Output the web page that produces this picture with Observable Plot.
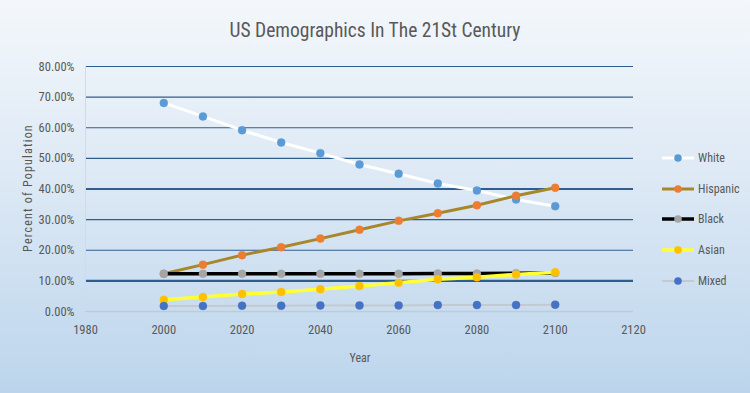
<!DOCTYPE html>
<html>
<head>
<meta charset="utf-8">
<script src="https://cdn.jsdelivr.net/npm/d3@7"></script>
<script src="https://cdn.jsdelivr.net/npm/@observablehq/plot@0.6"></script>
<style>
  html, body { margin: 0; padding: 0; }
  #wrap {
    position: relative; width: 750px; height: 393px; overflow: hidden;
    background: linear-gradient(to bottom, #f3f7fb 0%, #dde9f5 45%, #bcd5ec 100%);
    font-family: "Liberation Sans Narrow", "Roboto Condensed", "Liberation Sans", sans-serif;
  }
  #title {
    position: absolute; left: 0; top: 17px; width: 750px; text-align: center;
    font-size: 19.5px; color: #595959; height: 34px; line-height: 28px;
  }
  #chart { position: absolute; left: 0; top: 50px; }
  #legend { position: absolute; left: 660px; top: 143px; font-size: 12px; color: #595959; }
  .lg { display: flex; align-items: center; height: 30.6px; }
  .lg svg { margin-right: 2px; }
  #ytitle {
    position: absolute; left: 28px; top: 188px; transform: translate(-50%, -50%) rotate(-90deg);
    font-size: 12px; color: #595959; letter-spacing: 1.2px; white-space: nowrap;
  }
  #xtitle { position: absolute; left: 360px; top: 351px; transform: translateX(-50%); font-size: 12px; color: #595959; }
</style>
</head>
<body>
<div id="wrap">
  <div id="title">US Demographics In The 21St Century</div>
  <div id="chart"></div>
  <div id="ytitle">Percent of Population</div>
  <div id="xtitle">Year</div>
  <div id="legend"></div>
</div>
<script>
const years = [2000, 2010, 2020, 2030, 2040, 2050, 2060, 2070, 2080, 2090, 2100];
const white    = [68.1, 63.7, 59.2, 55.2, 51.7, 48.0, 45.0, 41.8, 39.5, 36.6, 34.4];
const hispanic = [12.3, 15.3, 18.4, 21.0, 23.8, 26.7, 29.6, 32.1, 34.7, 37.8, 40.4];
const black    = [12.3, 12.3, 12.3, 12.3, 12.3, 12.3, 12.3, 12.4, 12.4, 12.5, 12.6];
const asian    = [3.8, 4.7, 5.7, 6.4, 7.3, 8.3, 9.4, 10.5, 11.2, 12.1, 12.8];
const mixed    = [1.8, 1.8, 1.9, 1.9, 2.0, 2.0, 2.0, 2.1, 2.1, 2.1, 2.2];
const seriesNames = ["White", "Hispanic", "Black", "Asian", "Mixed"];
const seriesValues = [white, hispanic, black, asian, mixed];
const lineColors = ["#ffffff", "#a8872c", "#000000", "#ffff33", "#c4c9cf"];
const lineWidths = [3, 3, 3.5, 3.5, 2];
const dotColors = ["#5b9bd5", "#ed7d31", "#a5a5a5", "#ffc000", "#4472c4"];
const yTicks = [0, 10, 20, 30, 40, 50, 60, 70, 80];
const xTicks = [1980, 2000, 2020, 2040, 2060, 2080, 2100, 2120];

const rows = [];
seriesNames.forEach((s, i) => years.forEach((y, j) => rows.push({series: s, idx: i, year: y, value: seriesValues[i][j]})));

const marks = [
  Plot.ruleY(yTicks.filter(t => t > 0), {y: d => d, stroke: "#2f5e8e", strokeWidth: d => (d === 40 || d === 10) ? 2.2 : 1.1}),
  Plot.ruleY([0], {stroke: "#c3cad2", strokeWidth: 1.5}),
  Plot.ruleX([1980], {stroke: "#d2dbe5", strokeWidth: 1}),
  Plot.axisY({ticks: yTicks, tickSize: 0, tickPadding: 11, tickFormat: d => d.toFixed(2) + "%", fontSize: 12.5, fill: "#595959", label: null}),
  Plot.axisX({ticks: xTicks, tickSize: 0, tickPadding: 14, tickFormat: d => String(d), fontSize: 12.5, fill: "#595959", label: null})
];
seriesNames.forEach((s, i) => {
  const data = rows.filter(r => r.series === s);
  marks.push(Plot.line(data, {x: "year", y: "value", stroke: lineColors[i], strokeWidth: lineWidths[i]}));
  marks.push(Plot.dot(data, {x: "year", y: "value", fill: dotColors[i], r: 4, stroke: dotColors[i], strokeOpacity: 0.4, strokeWidth: 1}));
});

const chart = Plot.plot({
  width: 750, height: 343,
  marginTop: 16, marginBottom: 82, marginLeft: 85, marginRight: 117,
  style: {background: "transparent", fontFamily: "\"Liberation Sans Narrow\", \"Roboto Condensed\", \"Liberation Sans\", sans-serif"},
  x: {domain: [1980, 2120]},
  y: {domain: [0, 80]},
  marks
});
document.getElementById("chart").appendChild(chart);

const lg = document.getElementById("legend");
seriesNames.forEach((s, i) => {
  const row = document.createElement("div");
  row.className = "lg";
  const NS = "http://www.w3.org/2000/svg";
  const sv = document.createElementNS(NS, "svg");
  sv.setAttribute("width", 36); sv.setAttribute("height", 12);
  const ln = document.createElementNS(NS, "line");
  ln.setAttribute("x1", 2); ln.setAttribute("x2", 34); ln.setAttribute("y1", 6); ln.setAttribute("y2", 6);
  ln.setAttribute("stroke", lineColors[i]); ln.setAttribute("stroke-width", lineWidths[i]);
  const c = document.createElementNS(NS, "circle");
  c.setAttribute("cx", 18); c.setAttribute("cy", 6); c.setAttribute("r", 3.8); c.setAttribute("fill", dotColors[i]);
  sv.appendChild(ln); sv.appendChild(c);
  row.appendChild(sv);
  const t = document.createElement("span"); t.textContent = s;
  row.appendChild(t);
  lg.appendChild(row);
});
</script>
</body>
</html>
